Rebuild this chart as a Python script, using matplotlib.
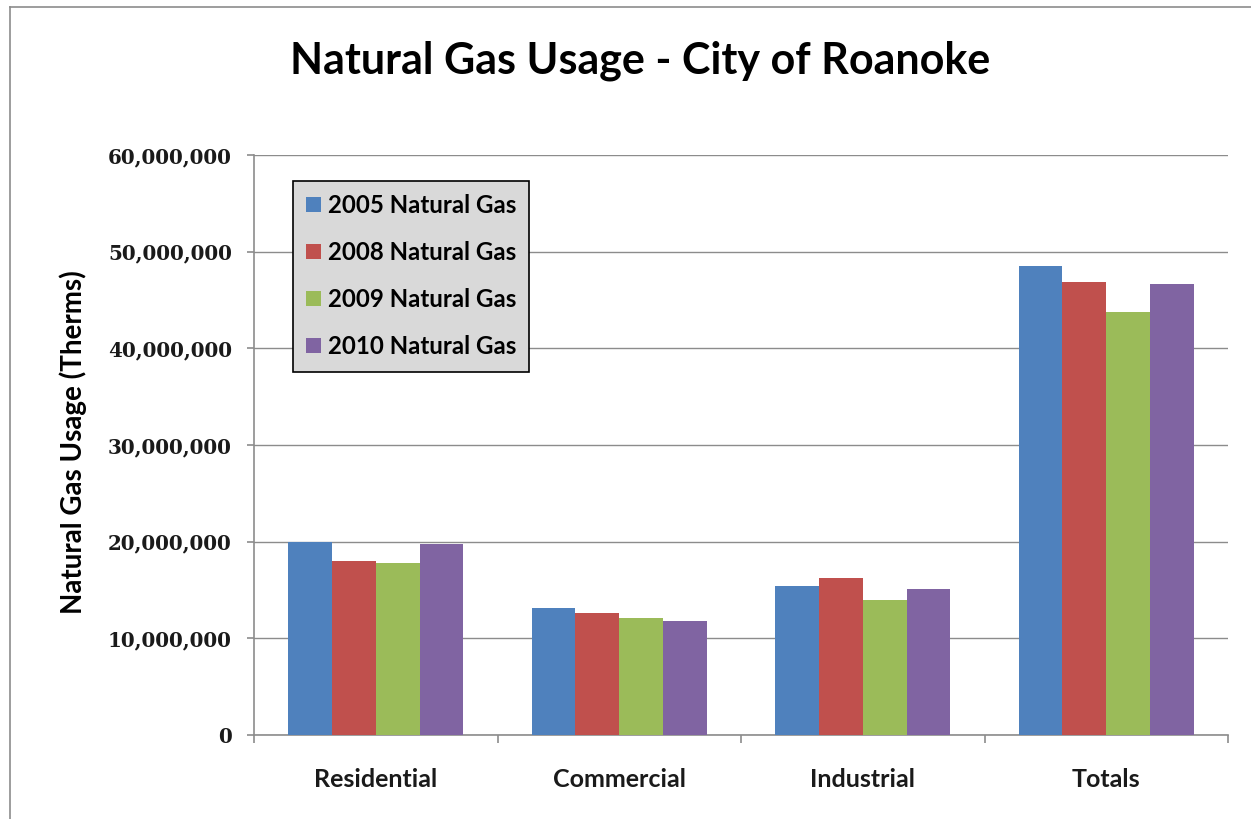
import matplotlib
matplotlib.use("Agg")
import matplotlib.pyplot as plt
import numpy as np
from matplotlib.ticker import FuncFormatter, FixedLocator
from matplotlib.lines import Line2D

categories = ["Residential", "Commercial", "Industrial", "Totals"]
series_names = ["2005 Natural Gas", "2008 Natural Gas", "2009 Natural Gas", "2010 Natural Gas"]
gas_2005 = [20000000, 13100000, 15410000, 48550000]
gas_2008 = [18030000, 12590000, 16240000, 46860000]
gas_2009 = [17760000, 12100000, 13930000, 43730000]
gas_2010 = [19730000, 11790000, 15070000, 46690000]
colors = ["#4f81bd", "#c0504d", "#9bbb59", "#8064a2"]
y_ticks = [0, 10000000, 20000000, 30000000, 40000000, 50000000, 60000000]

W, H = 1251, 819
fig = plt.figure(figsize=(W / 100, H / 100), dpi=100)
fig.patch.set_facecolor("white")

# outer chart border
fig.add_artist(Line2D([10 / W, 10 / W], [0, 1 - 7 / H], color="#8c8c8c", lw=1.2, transform=fig.transFigure))
fig.add_artist(Line2D([10 / W, 1], [1 - 7 / H, 1 - 7 / H], color="#8c8c8c", lw=1.2, transform=fig.transFigure))

left, right, top, bottom = 254, 1228, 155, 735
ax = fig.add_axes([left / W, 1 - bottom / H, (right - left) / W, (bottom - top) / H])

series = [gas_2005, gas_2008, gas_2009, gas_2010]
n = len(series)
x = np.arange(len(categories))
bw = 0.18
for i, (vals, c) in enumerate(zip(series, colors)):
    ax.bar(x + (i - (n - 1) / 2) * bw, vals, width=bw, color=c, label=series_names[i], zorder=3)

ax.set_xlim(-0.5, len(categories) - 0.5)
ax.set_ylim(0, 60000000)
ax.yaxis.set_major_locator(FixedLocator(y_ticks))
ax.yaxis.set_major_formatter(FuncFormatter(lambda v, p: f"{int(v):,}"))
ax.grid(axis="y", color="#8c8c8c", lw=1.0, zorder=0)
ax.set_axisbelow(True)

for s in ["top", "right"]:
    ax.spines[s].set_visible(False)
for s in ["left", "bottom"]:
    ax.spines[s].set_color("#8c8c8c")
    ax.spines[s].set_linewidth(1.2)

ax.set_xticks(x)
ax.set_xticklabels(categories, fontsize=18, family="Lato", fontweight="bold", color="#1a1a1a")
ax.tick_params(axis="x", length=0, pad=24)
ax.set_xticks(np.arange(len(categories) + 1) - 0.5, minor=True)
ax.tick_params(axis="x", which="minor", length=6, color="#8c8c8c", width=1.2)
ax.tick_params(axis="y", length=5, color="#8c8c8c", width=1.2, pad=11, labelsize=14.3)
for lab in ax.get_yticklabels():
    lab.set_family("DejaVu Serif")
    lab.set_fontweight("bold")
    lab.set_color("#1a1a1a")

ax.set_ylabel("Natural Gas Usage (Therms)", fontsize=20, family="Lato", fontweight="bold")
ax.yaxis.set_label_coords((73 - left) / (right - left), 0.5)
ax.yaxis.label.set_va("center")
ax.yaxis.label.set_y(1 - (442 - top) / (bottom - top))

fig.text(640 / W, 1 - 61 / H, "Natural Gas Usage - City of Roanoke", ha="center", va="center",
         fontsize=31, family="Lato", fontweight="bold", color="black")

leg = ax.legend(loc="upper left", bbox_to_anchor=((293 - left) / (right - left), 1 - (181 - top) / (bottom - top)),
                frameon=True, fancybox=False, handlelength=0.6, handleheight=0.6,
                handletextpad=0.3, labelspacing=1.0, borderpad=0.55, borderaxespad=0,
                prop={"family": "Lato", "size": 17.3, "weight": "bold"})
leg.get_frame().set_facecolor("#d9d9d9")
leg.get_frame().set_edgecolor("black")
leg.get_frame().set_linewidth(1.2)
leg.get_frame().set_alpha(1)

fig.savefig("out.png", dpi=100, facecolor="white")
